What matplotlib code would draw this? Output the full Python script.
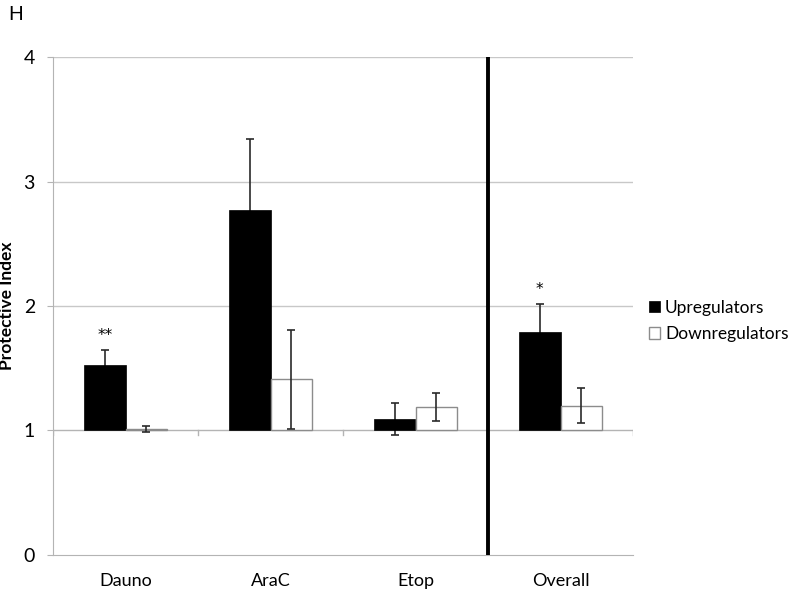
import matplotlib.pyplot as plt
import numpy as np

plt.rcParams['font.family'] = ['Lato', 'DejaVu Sans']

# data
categories = ['Dauno', 'AraC', 'Etop', 'Overall']
up_vals = [1.53, 2.77, 1.09, 1.79]
up_err = [0.12, 0.57, 0.13, 0.23]
down_vals = [1.01, 1.41, 1.19, 1.20]
down_err = [0.025, 0.40, 0.11, 0.14]
stars = ['**', '', '', '*']
baseline = 1

x = np.arange(len(categories))
w = 0.285

fig = plt.figure(figsize=(8, 5.97), dpi=100)
ax = fig.add_axes([0.06625, 0.0704, 0.725, 0.834])

# grid lines
for g in [2, 3, 4]:
    ax.axhline(g, color='#c8c8c8', lw=1, zorder=0)

ekw_up = dict(ecolor='#2a2a2a', elinewidth=1.2, capsize=3, capthick=1.2, zorder=1.5)
ekw_down = dict(ecolor='#2a2a2a', elinewidth=1.2, capsize=3, capthick=1.2, zorder=2.5)
ax.bar(x - w / 2, np.array(up_vals) - baseline, w, bottom=baseline,
       color='black', edgecolor='black', lw=0.5, label='Upregulators',
       yerr=up_err, error_kw=ekw_up, zorder=2)
ax.bar(x + w / 2, np.array(down_vals) - baseline, w, bottom=baseline,
       color='white', edgecolor='#8c8c8c', lw=1, label='Downregulators',
       yerr=down_err, error_kw=ekw_down, zorder=2)

# axis line at 1 with category tick marks
ax.axhline(baseline, color='#b4b4b4', lw=1, zorder=1)
for b in np.arange(len(categories) + 1) - 0.5:
    ax.plot([b, b], [baseline, baseline - 0.04], color='#b4b4b4', lw=1, zorder=1)

# significance marks
for xi, v, e, s in zip(x, up_vals, up_err, stars):
    if s:
        ax.text(xi - w / 2, v + e + 0.11, s, ha='center', va='center',
                fontsize=11, family='DejaVu Sans')

# divider
ax.axvline(2.5, color='black', lw=2.8, zorder=3)

ax.set_xlim(-0.5, len(categories) - 0.5)
ax.set_ylim(0, 4)
ax.set_yticks([0, 1, 2, 3, 4])
ax.set_xticks(x)
ax.set_xticklabels(categories, fontsize=13)
ax.tick_params(axis='x', length=0, pad=13)
ax.tick_params(axis='y', length=4, color='#b4b4b4', labelsize=14, pad=9)
for s in ['top', 'right']:
    ax.spines[s].set_visible(False)
for s in ['left', 'bottom']:
    ax.spines[s].set_color('#b4b4b4')
ax.set_ylabel('Protective Index', fontsize=12.5, fontweight='bold', labelpad=6)

leg = ax.legend(loc='center left', bbox_to_anchor=(1.0, 0.47), frameon=False,
                fontsize=12.5, handlelength=0.65, handleheight=0.65,
                handletextpad=0.3, labelspacing=0.6, borderaxespad=0.5)

fig.text(0.01, 0.975, 'H', fontsize=14, va='center', ha='left')

fig.savefig('out.png', dpi=100)
